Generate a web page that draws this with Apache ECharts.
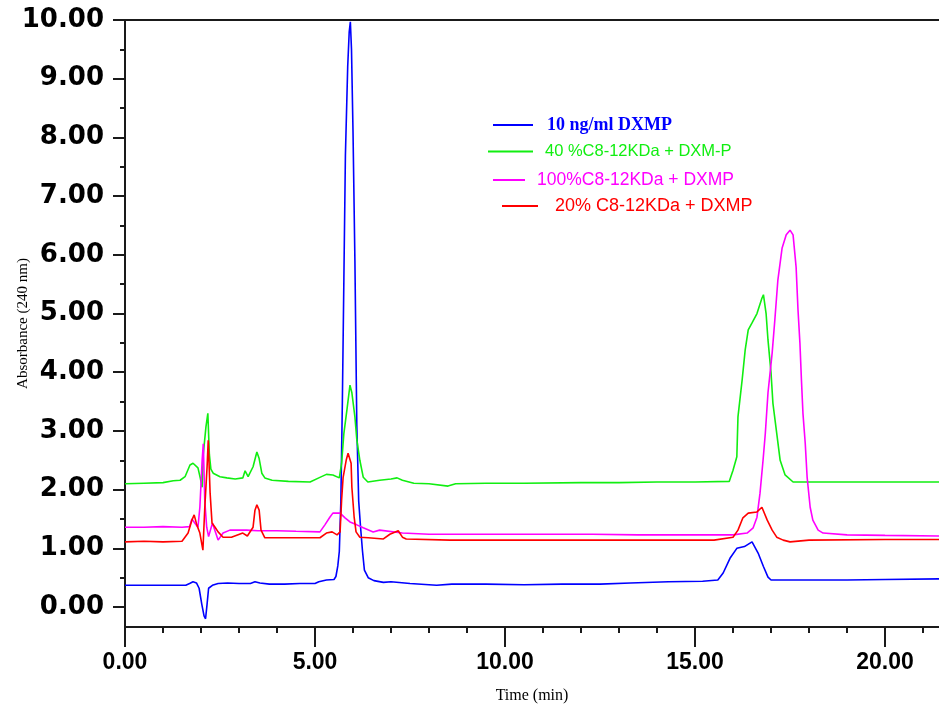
<!DOCTYPE html>
<html>
<head>
<meta charset="utf-8">
<title>Chromatogram</title>
<script src="https://cdn.jsdelivr.net/npm/echarts@6/dist/echarts.min.js"></script>
<style>
html, body { margin: 0; padding: 0; background: #fff; }
#chart { width: 939px; height: 704px; }
</style>
</head>
<body>
<div id="chart"></div>
<script>
// series names (legend text)
const seriesNames = ['10 ng/ml DXMP', '40 %C8-12KDa + DXM-P', '100%C8-12KDa + DXMP', '20% C8-12KDa + DXMP']

// [time (min), absorbance]
const blueTrace = [[0, 0.37], [0.5, 0.37], [0.84, 0.37], [0.86, 0.34], [0.9, 0.37], [1.13, 0.37], [1.15, 0.34], [1.18, 0.37], [1.6, 0.37], [1.7, 0.4], [1.79, 0.43], [1.88, 0.41], [1.95, 0.32], [2.02, 0.05], [2.08, -0.15], [2.12, -0.2], [2.16, 0.05], [2.2, 0.32], [2.3, 0.37], [2.45, 0.4], [2.7, 0.41], [3.0, 0.4], [3.3, 0.4], [3.42, 0.43], [3.47, 0.46], [3.55, 0.41], [3.8, 0.39], [4.2, 0.39], [4.6, 0.4], [5.0, 0.4], [5.1, 0.43], [5.3, 0.46], [5.5, 0.47], [5.55, 0.52], [5.6, 0.7], [5.64, 0.95], [5.68, 1.8], [5.72, 3.5], [5.76, 5.6], [5.8, 7.7], [5.86, 9.2], [5.9, 9.8], [5.93, 9.97], [5.96, 9.5], [6.0, 8.1], [6.05, 5.9], [6.1, 3.1], [6.15, 1.8], [6.2, 1.35], [6.25, 0.95], [6.3, 0.63], [6.4, 0.5], [6.55, 0.45], [6.8, 0.42], [7.0, 0.43], [7.5, 0.4], [8.2, 0.37], [8.6, 0.39], [9.5, 0.39], [10.5, 0.38], [11.5, 0.39], [12.5, 0.39], [13.3, 0.41], [14.3, 0.43], [15.2, 0.44], [15.6, 0.46], [15.74, 0.58], [15.92, 0.83], [16.1, 1.0], [16.3, 1.03], [16.5, 1.11], [16.66, 0.92], [16.8, 0.69], [16.92, 0.51], [17.0, 0.46], [18, 0.46], [19, 0.46], [20, 0.47], [21.42, 0.48]]

const greenTrace = [[0, 2.1], [0.5, 2.11], [1.0, 2.12], [1.27, 2.15], [1.45, 2.16], [1.58, 2.22], [1.71, 2.42], [1.79, 2.45], [1.92, 2.37], [1.98, 2.2], [2.03, 2.04], [2.06, 2.6], [2.13, 3.07], [2.18, 3.3], [2.22, 2.6], [2.26, 2.35], [2.32, 2.28], [2.5, 2.22], [2.68, 2.2], [2.9, 2.18], [3.1, 2.2], [3.16, 2.32], [3.24, 2.22], [3.37, 2.39], [3.47, 2.64], [3.53, 2.53], [3.6, 2.28], [3.68, 2.2], [3.87, 2.16], [4.3, 2.14], [4.87, 2.13], [5.1, 2.2], [5.3, 2.26], [5.47, 2.25], [5.64, 2.2], [5.7, 2.45], [5.76, 2.96], [5.84, 3.36], [5.92, 3.78], [5.97, 3.65], [6.05, 3.24], [6.1, 2.85], [6.18, 2.5], [6.27, 2.21], [6.39, 2.13], [6.7, 2.16], [7.0, 2.18], [7.16, 2.2], [7.3, 2.16], [7.6, 2.11], [8.0, 2.1], [8.5, 2.06], [8.7, 2.1], [9.5, 2.11], [10.5, 2.11], [12, 2.12], [13, 2.12], [14, 2.13], [15, 2.13], [15.9, 2.14], [16.0, 2.33], [16.1, 2.56], [16.13, 3.24], [16.24, 3.87], [16.32, 4.38], [16.4, 4.72], [16.5, 4.84], [16.63, 5.0], [16.76, 5.26], [16.8, 5.32], [16.87, 5.0], [16.92, 4.55], [17.0, 3.99], [17.05, 3.47], [17.15, 2.96], [17.24, 2.5], [17.37, 2.25], [17.58, 2.13], [18.5, 2.13], [20, 2.13], [21.42, 2.13]]

const magentaTrace = [[0, 1.36], [0.5, 1.36], [1.0, 1.37], [1.5, 1.36], [1.7, 1.37], [1.76, 1.5], [1.85, 1.42], [1.92, 1.36], [1.97, 1.7], [2.03, 2.5], [2.06, 2.78], [2.1, 1.8], [2.15, 1.36], [2.2, 1.2], [2.3, 1.43], [2.45, 1.14], [2.58, 1.26], [2.76, 1.31], [3.2, 1.31], [3.5, 1.3], [4.0, 1.3], [4.5, 1.29], [5.13, 1.28], [5.26, 1.4], [5.39, 1.53], [5.47, 1.6], [5.66, 1.6], [5.79, 1.52], [5.92, 1.45], [6.1, 1.4], [6.27, 1.35], [6.53, 1.28], [6.7, 1.31], [7.3, 1.26], [8, 1.24], [10, 1.24], [12.3, 1.24], [13.5, 1.23], [15.2, 1.23], [16.0, 1.23], [16.37, 1.26], [16.53, 1.35], [16.63, 1.53], [16.71, 1.94], [16.79, 2.5], [16.85, 2.96], [16.92, 3.65], [17.03, 4.33], [17.1, 4.89], [17.18, 5.57], [17.29, 6.11], [17.4, 6.34], [17.5, 6.42], [17.58, 6.34], [17.66, 5.79], [17.71, 5.06], [17.76, 4.5], [17.8, 3.87], [17.84, 3.3], [17.9, 2.79], [17.95, 2.21], [18.03, 1.7], [18.1, 1.48], [18.24, 1.31], [18.37, 1.26], [19, 1.23], [20, 1.22], [21.42, 1.21]]

const redTrace = [[0, 1.11], [0.5, 1.12], [1.0, 1.11], [1.5, 1.12], [1.66, 1.26], [1.76, 1.48], [1.82, 1.57], [1.89, 1.4], [1.97, 1.26], [2.05, 0.97], [2.1, 1.7], [2.16, 2.39], [2.19, 2.84], [2.24, 1.94], [2.29, 1.43], [2.37, 1.36], [2.45, 1.28], [2.58, 1.19], [2.8, 1.19], [3.1, 1.26], [3.22, 1.21], [3.37, 1.36], [3.42, 1.65], [3.47, 1.74], [3.53, 1.65], [3.58, 1.31], [3.68, 1.18], [4.2, 1.18], [5.13, 1.18], [5.3, 1.26], [5.45, 1.28], [5.58, 1.23], [5.66, 1.28], [5.7, 1.82], [5.74, 2.21], [5.82, 2.5], [5.87, 2.62], [5.95, 2.45], [5.97, 2.04], [6.03, 1.53], [6.08, 1.28], [6.18, 1.19], [6.4, 1.18], [6.8, 1.16], [6.97, 1.24], [7.19, 1.3], [7.3, 1.19], [7.4, 1.16], [8.55, 1.14], [10, 1.14], [12, 1.14], [14, 1.14], [15.5, 1.14], [16.0, 1.19], [16.13, 1.31], [16.26, 1.52], [16.4, 1.6], [16.63, 1.62], [16.76, 1.7], [16.9, 1.48], [17.03, 1.31], [17.15, 1.19], [17.32, 1.14], [17.5, 1.11], [18, 1.14], [20, 1.15], [21.42, 1.15]]

// tick labels / tick positions
const xLabels = [0, 5, 10, 15, 20]
const xMinorTicks = [1, 2, 3, 4, 6, 7, 8, 9, 11, 12, 13, 14, 16, 17, 18, 19, 21]
const yLabels = [0, 1, 2, 3, 4, 5, 6, 7, 8, 9, 10]
const yHalfTicks = [0.5, 1.5, 2.5, 3.5, 4.5, 5.5, 6.5, 7.5, 8.5, 9.5]

const xMax = 21.42
const yMin = -0.34
const yMax = 10
const axisColor = '#1a1a1a'

const myChart = echarts.init(document.getElementById('chart'))

const hiddenAxisParts = {
  axisLine: { show: false, onZero: false },
  axisLabel: { show: false },
  splitLine: { show: false }
}

const option = {
  animation: false,
  backgroundColor: '#fff',
  grid: { left: 125, right: 0, top: 20, bottom: 77, containLabel: false, outerBoundsMode: 'none' },
  legend: [
    {
      data: [seriesNames[0]], left: 493, top: 116, padding: 0, icon: 'rect', itemWidth: 40, itemHeight: 2, selectedMode: false,
      textStyle: { color: '#0000ff', fontFamily: 'Liberation Serif', fontWeight: 'bold', fontSize: 18, padding: [0, 0, 0, 9] }
    },
    {
      data: [seriesNames[1]], left: 488, top: 143, padding: 0, icon: 'rect', itemWidth: 45, itemHeight: 2, selectedMode: false,
      textStyle: { color: '#11ee11', fontFamily: 'Liberation Sans', fontSize: 16.5, padding: [0, 0, 0, 7] }
    },
    {
      data: [seriesNames[2]], left: 493, top: 171, padding: 0, icon: 'rect', itemWidth: 32, itemHeight: 2, selectedMode: false,
      textStyle: { color: '#ff00ff', fontFamily: 'Liberation Sans', fontSize: 17.5, padding: [0, 0, 0, 7] }
    },
    {
      data: [seriesNames[3]], left: 502, top: 197, padding: 0, icon: 'rect', itemWidth: 36, itemHeight: 2, selectedMode: false,
      textStyle: { color: '#ff0000', fontFamily: 'Liberation Sans', fontSize: 18, padding: [12, 0, 0, 12] }
    }
  ],
  xAxis: [
    {
      type: 'value',
      min: 0,
      max: xMax,
      position: 'bottom',
      name: 'Time (min)',
      nameLocation: 'middle',
      nameGap: 61,
      nameMoveOverlap: false,
      nameTextStyle: { fontFamily: 'Liberation Serif', fontSize: 16, color: '#000' },
      axisLine: { show: true, onZero: false, lineStyle: { color: axisColor, width: 2 } },
      axisTick: { show: true, customValues: xLabels, length: 20, lineStyle: { color: axisColor, width: 2 } },
      axisLabel: {
        customValues: xLabels,
        margin: 24,
        formatter: (v) => Number(v).toFixed(2),
        fontFamily: 'Liberation Sans',
        fontWeight: 'bold',
        fontSize: 23,
        color: '#000'
      },
      splitLine: { show: false }
    },
    Object.assign({
      type: 'value',
      min: 0,
      max: xMax,
      position: 'bottom',
      axisTick: { show: true, customValues: xMinorTicks, length: 6, lineStyle: { color: axisColor, width: 2 } }
    }, hiddenAxisParts),
    {
      type: 'value',
      min: 0,
      max: xMax,
      position: 'top',
      axisLine: { show: true, onZero: false, lineStyle: { color: axisColor, width: 2 } },
      axisTick: { show: false },
      axisLabel: { show: false },
      splitLine: { show: false }
    }
  ],
  yAxis: [
    {
      type: 'value',
      min: yMin,
      max: yMax,
      position: 'left',
      name: 'Absorbance (240 nm)',
      nameLocation: 'middle',
      nameGap: 94,
      nameMoveOverlap: false,
      nameTextStyle: { fontFamily: 'Liberation Serif', fontSize: 15, color: '#000' },
      axisLine: { show: true, onZero: false, lineStyle: { color: axisColor, width: 2 } },
      axisTick: { show: true, customValues: yLabels, length: 12, lineStyle: { color: axisColor, width: 2 } },
      axisLabel: {
        customValues: yLabels,
        margin: 21,
        formatter: (v) => Number(v).toFixed(2),
        fontFamily: 'DejaVu Sans',
        fontWeight: 'bold',
        fontSize: 26,
        color: '#000'
      },
      splitLine: { show: false }
    },
    Object.assign({
      type: 'value',
      min: yMin,
      max: yMax,
      position: 'left',
      axisTick: { show: true, customValues: yHalfTicks, length: 5, lineStyle: { color: axisColor, width: 2 } }
    }, hiddenAxisParts)
  ],
  series: [
    { name: seriesNames[0], type: 'line', color: '#0000ff', data: blueTrace },
    { name: seriesNames[1], type: 'line', color: '#11ee11', data: greenTrace },
    { name: seriesNames[2], type: 'line', color: '#ff00ff', data: magentaTrace },
    { name: seriesNames[3], type: 'line', color: '#ff0000', data: redTrace }
  ].map(s => Object.assign(s, {
    xAxisIndex: 0,
    yAxisIndex: 0,
    showSymbol: false,
    symbol: 'none',
    lineStyle: { width: 1.6 },
    emphasis: { disabled: true }
  }))
}

myChart.setOption(option)
window.addEventListener('resize', function () {
  myChart.resize()
})
</script>
</body>
</html>
